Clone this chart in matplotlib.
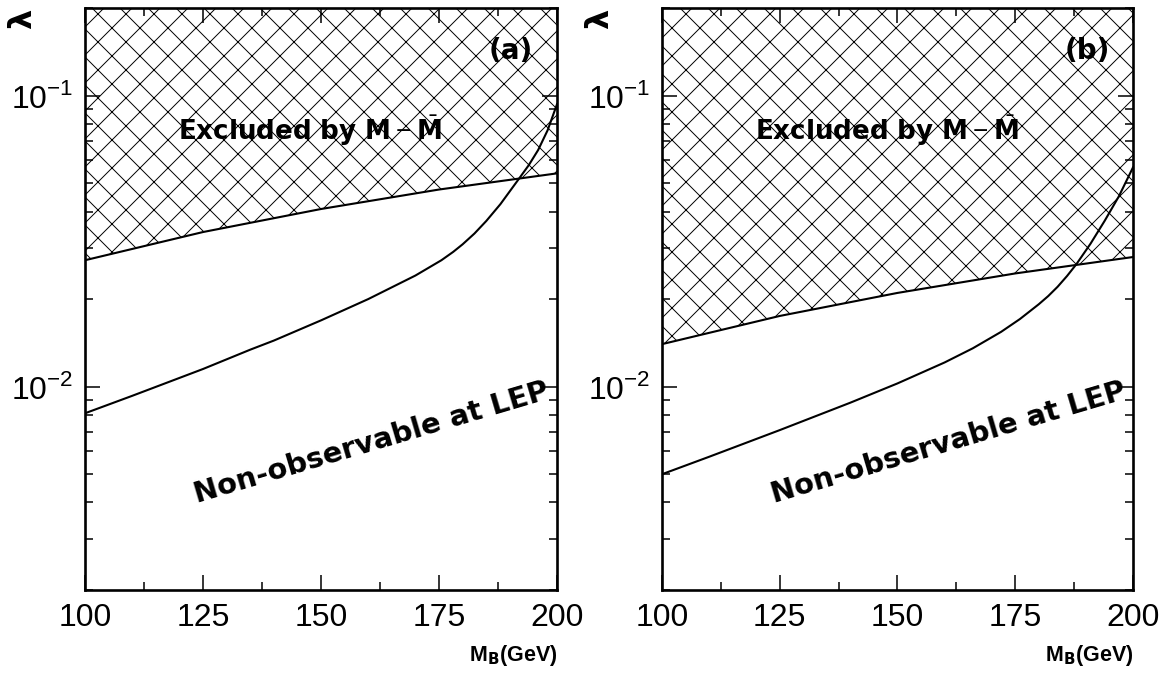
import matplotlib
matplotlib.use("Agg")
import matplotlib.pyplot as plt
from matplotlib.ticker import FixedLocator, NullFormatter, LogLocator

# hatch tile is one inch, so a lower dpi gives a finer cross-hatch;
# all point sizes below are scaled so the pixel sizes stay put
DPI = 84
S = 100 / DPI

plt.rcParams["font.family"] = ["Liberation Sans", "DejaVu Sans"]
plt.rcParams["mathtext.fontset"] = "custom"
plt.rcParams["mathtext.rm"] = "Liberation Sans"
plt.rcParams["mathtext.bf"] = "DejaVu Sans:bold"
plt.rcParams["hatch.linewidth"] = 0.7 * S

# excluded-region boundary (M - Mbar mixing)
mass_excl = [100, 125, 150, 175, 200]
excl_a = [0.0272, 0.0340, 0.0408, 0.0476, 0.0541]
excl_b = [0.0140, 0.0175, 0.0210, 0.0245, 0.0279]

# LEP observability curves
mass_lep_a = [100, 110, 125, 135, 140, 150, 160, 170, 175.5, 178, 180, 182.5,
              185, 188, 191.8, 194, 196, 198, 200]
lep_a = [0.0081, 0.0093, 0.0115, 0.0134, 0.0144, 0.0169, 0.0200, 0.0241, 0.0272,
         0.02906, 0.03086, 0.0336, 0.0371, 0.0424, 0.0515, 0.0577, 0.0651,
         0.0761, 0.0936]
mass_lep_b = [100, 110, 125, 140, 150, 160, 166, 172, 176, 180, 182, 184, 186,
              188, 191, 194, 197, 200]
lep_b = [0.0050, 0.00574, 0.00709, 0.00881, 0.01026, 0.01211, 0.01355, 0.01543,
         0.01708, 0.0192, 0.02048, 0.02205, 0.02401, 0.02638, 0.03103, 0.03718,
         0.0451, 0.0567]

xticks = [100, 125, 150, 175, 200]
xtick_labels = ["100", "125", "150", "175", "200"]
yticks = [1e-2, 1e-1]
ytick_labels = [r"$10^{-2}$", r"$10^{-1}$"]
panel_tags = ["(a)", "(b)"]

ymin, ymax = 0.002, 0.2

fig = plt.figure(figsize=(1172.01 / DPI, 675.01 / DPI), dpi=DPI)
ax_a = fig.add_axes([0.0725, 0.1259, 0.4028, 0.862])
ax_b = fig.add_axes([0.5648, 0.1259, 0.4019, 0.862])

panels = [
    (ax_a, excl_a, mass_lep_a, lep_a, panel_tags[0], 0.0196),
    (ax_b, excl_b, mass_lep_b, lep_b, panel_tags[1], 0.512),
]

for ax, excl, mlep, lep, tag, lam_x in panels:
    ax.set_yscale("log")
    ax.set_xlim(100, 200)
    ax.set_ylim(ymin, ymax)

    ax.fill_between(mass_excl, excl, ymax, facecolor="white", edgecolor="black",
                    hatch="x", linewidth=0)
    ax.plot(mass_excl, excl, color="black", lw=1.5 * S)
    ax.plot(mlep, lep, color="black", lw=1.5 * S)

    ax.set_xticks(xticks)
    ax.set_xticklabels(xtick_labels)
    ax.xaxis.set_minor_locator(FixedLocator([112.5, 137.5, 162.5, 187.5]))
    ax.set_yticks(yticks)
    ax.set_yticklabels(ytick_labels)
    ax.yaxis.set_minor_locator(LogLocator(base=10, subs=range(2, 10)))
    ax.yaxis.set_minor_formatter(NullFormatter())

    ax.tick_params(which="both", direction="in", top=True, right=True, width=1.1 * S)
    ax.tick_params(which="major", length=10.5 * S, labelsize=23 * S)
    ax.tick_params(axis="x", which="major", pad=9 * S)
    ax.tick_params(axis="y", which="major", pad=8 * S)
    ax.tick_params(which="minor", length=5.5 * S)
    for sp in ax.spines.values():
        sp.set_linewidth(1.9 * S)

    ax.text(147.7, 0.076, r"Excluded by $\mathbf{M}-\bar{\mathbf{M}}$",
            family="DejaVu Sans", fontweight="bold", fontsize=18.8 * S,
            ha="center", va="center", zorder=5)
    ax.text(190.2, 0.142, tag, family="DejaVu Sans", fontweight="bold",
            fontsize=20 * S, ha="center", va="center", zorder=5)
    ax.text(160.8, 0.0064, "Non-observable at LEP", family="DejaVu Sans",
            fontweight="bold", fontsize=20.8 * S, rotation=16.5,
            ha="center", va="center", rotation_mode="anchor")
    ax.text(1.0, -0.113, r"M$_\mathbf{B}$(GeV)", transform=ax.transAxes,
            family="Liberation Sans", fontweight="bold", fontsize=15.5 * S,
            ha="right", va="center")
    fig.text(lam_x, 0.972, "λ", family="DejaVu Sans", fontweight="bold",
             fontsize=23 * S, rotation=90, ha="center", va="center")

fig.savefig("out.png", dpi=DPI)
